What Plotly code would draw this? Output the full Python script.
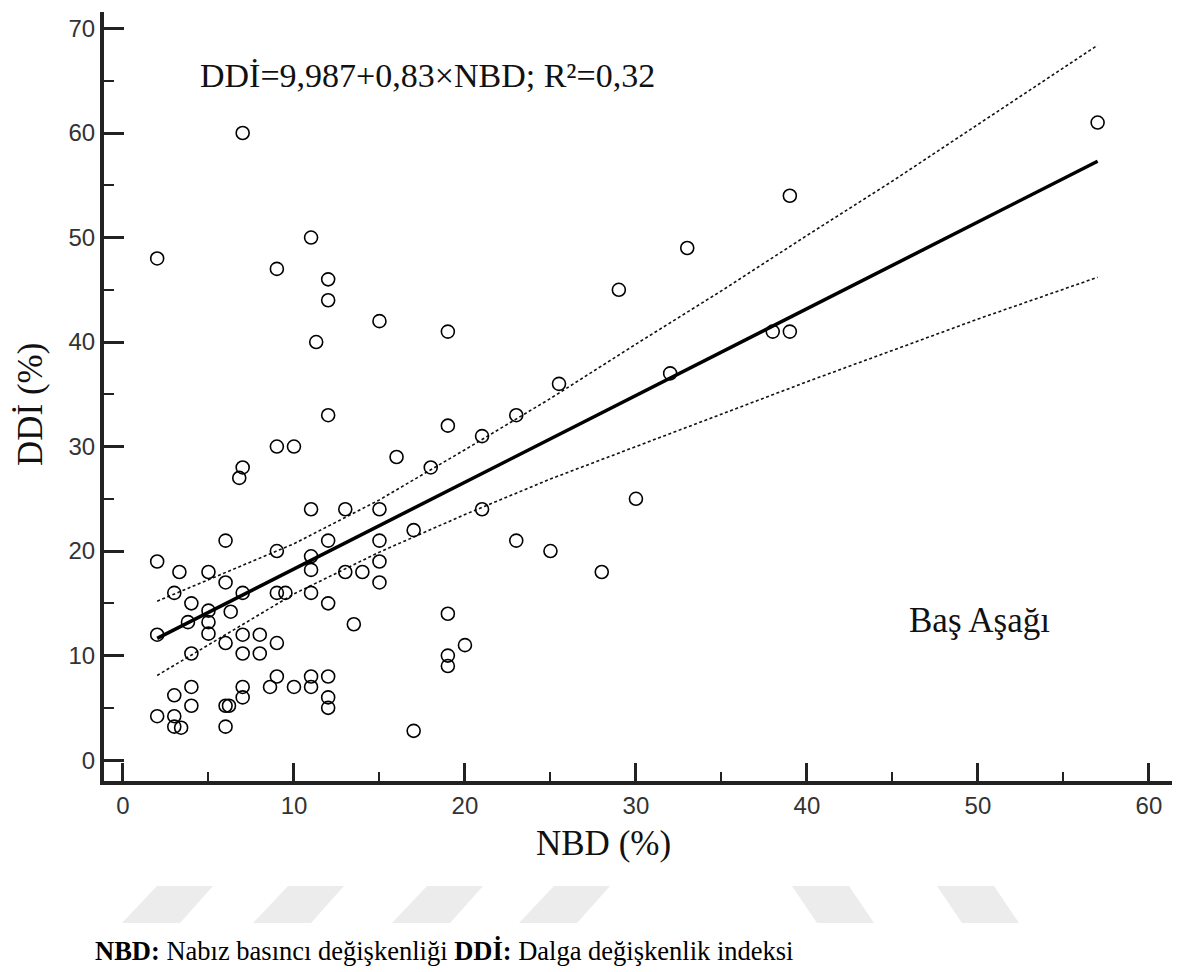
import plotly.graph_objects as go

# ---- data ----
nbd = [7, 2, 11, 9, 12, 12, 15, 19, 11.3, 12, 19, 9, 10, 21, 23, 25.5, 16, 18, 7, 6.8,
       11, 13, 15, 21, 17, 6, 12, 15, 23, 25, 2, 9, 11, 15, 11, 3.3, 5, 13, 14, 28,
       6, 15, 3, 7, 9, 9.5, 11, 12, 4, 5, 6.3, 19, 3.8, 5, 13.5, 5, 2, 7, 8, 6,
       9, 20, 4, 7, 8, 19, 19, 4, 3, 4, 2, 3, 3, 3.4, 6, 6.2, 6, 7, 7, 8.6,
       9, 10, 11, 11, 12, 12, 12, 17, 29, 33, 39, 57, 32, 38, 39, 30]
ddi = [60, 48, 50, 47, 46, 44, 42, 41, 40, 33, 32, 30, 30, 31, 33, 36, 29, 28, 28, 27,
       24, 24, 24, 24, 22, 21, 21, 21, 21, 20, 19, 20, 19.5, 19, 18.2, 18, 18, 18, 18, 18,
       17, 17, 16, 16, 16, 16, 16, 15, 15, 14.3, 14.2, 14, 13.2, 13.2, 13, 12.1, 12, 12, 12, 11.2,
       11.2, 11, 10.2, 10.2, 10.2, 10, 9, 7, 6.2, 5.2, 4.2, 4.2, 3.2, 3.1, 5.2, 5.2, 3.2, 7, 6, 7,
       8, 7, 8, 7, 8, 6, 5, 2.8, 45, 49, 54, 61, 37, 41, 41, 25]

reg_x = [2, 57]
reg_y = [11.65, 57.3]

band_x = [2, 10, 15, 20, 25, 30, 35, 40, 45, 50, 57]
band_upper = [15.2, 20.7, 24.9, 29.7, 34.6, 39.8, 44.9, 50.2, 55.4, 60.8, 68.4]
band_lower = [8.1, 15.9, 19.9, 23.5, 26.9, 30.0, 33.1, 36.2, 39.2, 42.2, 46.2]

x_ticks = [0, 10, 20, 30, 40, 50, 60]
y_ticks = [0, 10, 20, 30, 40, 50, 60, 70]

equation_text = "DDİ=9,987+0,83×NBD; R²=0,32"
position_text = "Baş Aşağı"
x_title = "NBD (%)"
y_title = "DDİ (%)"
footnote = "<b>NBD:</b> Nabız basıncı değişkenliği <b>DDİ:</b> Dalga değişkenlik indeksi"

# ---- layout geometry (pixels) ----
W, H = 1182, 972
L, R, T, B = 104, 1172, 12, 781
PW, PH = R - L, B - T


def px(x):
    return (x - L) / PW


def py(y):
    return (B - y) / PH


fig = go.Figure()

for yy in (band_upper, band_lower):
    fig.add_trace(go.Scatter(x=band_x, y=yy, mode="lines",
                             line=dict(color="#111", width=1.6, dash="3px,2.5px"),
                             hoverinfo="skip", showlegend=False))

fig.add_trace(go.Scatter(x=reg_x, y=reg_y, mode="lines",
                         line=dict(color="#000", width=3.5),
                         showlegend=False))

fig.add_trace(go.Scatter(x=nbd, y=ddi, mode="markers",
                         marker=dict(symbol="circle-open", size=13, color="#000",
                                     line=dict(width=1.6, color="#000")),
                         showlegend=False))

tickfont = dict(family="Liberation Sans, Arial, sans-serif", size=24, color="#333")
axis_common = dict(showline=True, linecolor="#222", linewidth=4, showgrid=False,
                   zeroline=False, ticks="inside", tickcolor="#222", tickwidth=3,
                   tickfont=tickfont, mirror=False)

fig.update_xaxes(range=[-1.11, 61.35], tickvals=x_ticks, ticklen=18,
                 minor=dict(dtick=5, tick0=0, ticks="inside", ticklen=9, tickwidth=2,
                            tickcolor="#222", showgrid=False),
                 **axis_common)
fig.update_yaxes(range=[-2.0, 71.58], tickvals=y_ticks, ticklen=20,
                 minor=dict(dtick=5, tick0=0, ticks="inside", ticklen=10, tickwidth=2,
                            tickcolor="#222", showgrid=False),
                 **axis_common)

serif = "Liberation Serif, Times New Roman, serif"
anns = [
    dict(text=equation_text, x=px(198), y=py(75), xanchor="left", yanchor="middle",
         font=dict(family=serif, size=34, color="#111")),
    dict(text=position_text, x=px(907), y=py(620), xanchor="left", yanchor="middle",
         font=dict(family=serif, size=35, color="#111")),
    dict(text=x_title, x=px(603), y=py(843), xanchor="center", yanchor="middle",
         font=dict(family=serif, size=35, color="#111")),
    dict(text=y_title, x=px(30), y=py(405), xanchor="center", yanchor="middle",
         textangle=-90, font=dict(family=serif, size=35, color="#111")),
    dict(text=footnote, x=px(93), y=py(951), xanchor="left", yanchor="middle",
         font=dict(family=serif, size=26.5, color="#000")),
]
for a in anns:
    a.update(xref="paper", yref="paper", showarrow=False)

shapes = []
top, bot = 886, 923
for X in (122, 253, 392, 519):
    path = (f"M {px(X)} {py(bot)} L {px(X+58)} {py(bot)} L {px(X+91)} {py(top)} "
            f"L {px(X+35)} {py(top)} Z")
    shapes.append(dict(type="path", path=path, xref="paper", yref="paper",
                       fillcolor="#ececec", line=dict(width=0), layer="below"))
for X in (792, 937):
    path = (f"M {px(X)} {py(top)} L {px(X+57)} {py(top)} L {px(X+82)} {py(bot)} "
            f"L {px(X+25)} {py(bot)} Z")
    shapes.append(dict(type="path", path=path, xref="paper", yref="paper",
                       fillcolor="#ececec", line=dict(width=0), layer="below"))

fig.update_layout(width=W, height=H, autosize=False,
                  margin=dict(l=L, r=W - R, t=T, b=H - B, pad=0),
                  paper_bgcolor="white", plot_bgcolor="white",
                  annotations=anns, shapes=shapes, showlegend=False)

fig.write_html("out.html", config={"displayModeBar": False},
               post_script="document.body.style.margin='0';")
